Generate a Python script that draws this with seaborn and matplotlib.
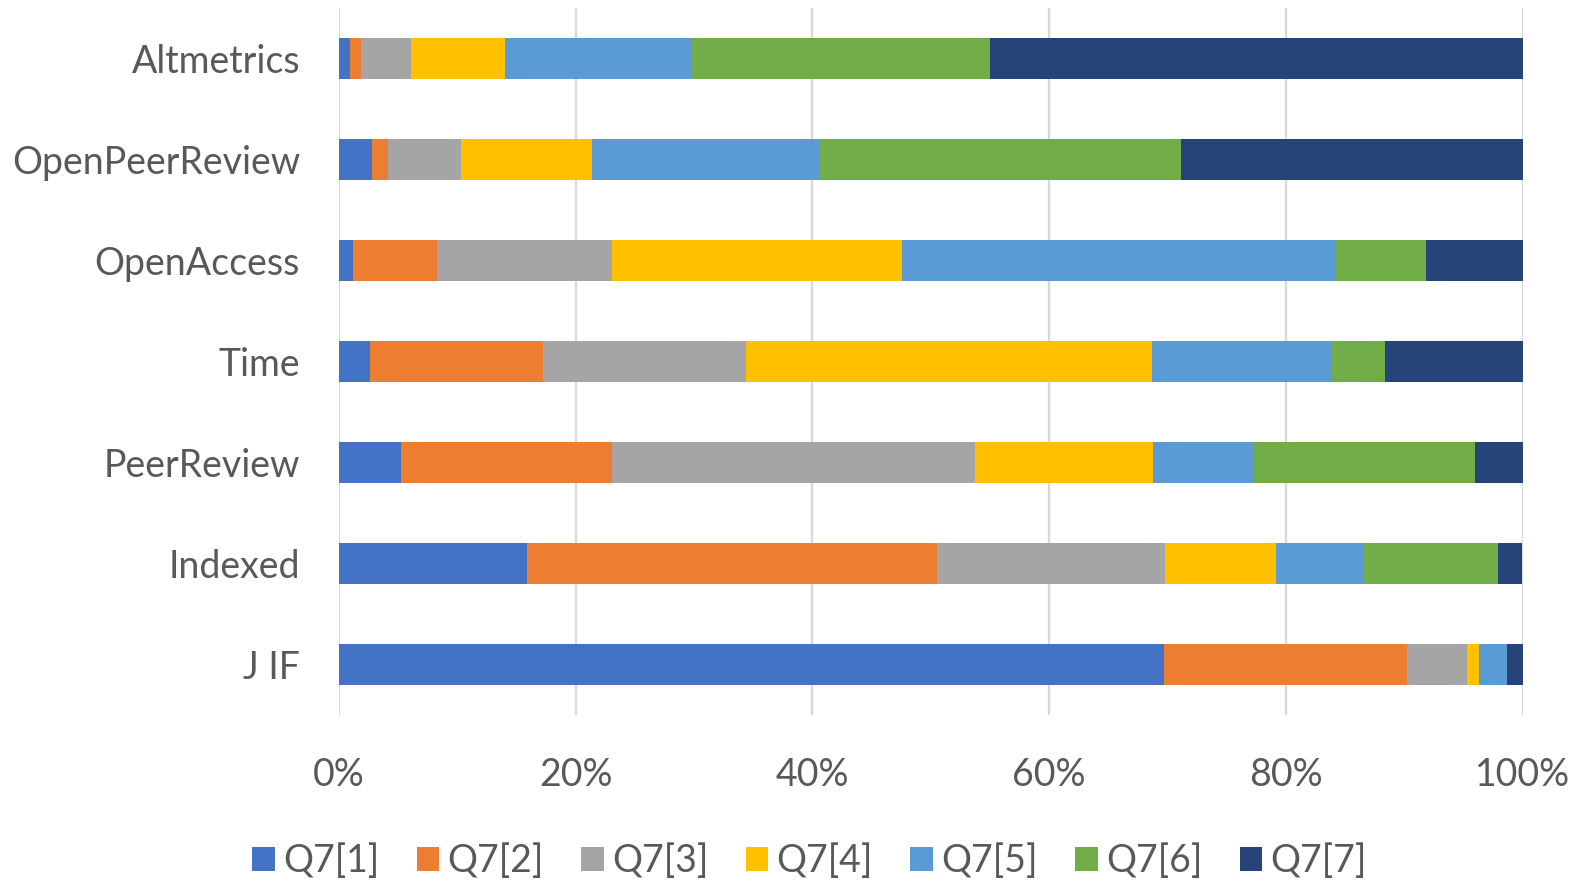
import numpy as np
import pandas as pd
import seaborn as sns
import matplotlib
matplotlib.use("Agg")
import matplotlib.pyplot as plt
from matplotlib.patches import Patch
from matplotlib.ticker import PercentFormatter

# Survey item ratings (share of respondents, %) per factor
categories = ["Altmetrics", "OpenPeerReview", "OpenAccess", "Time",
              "PeerReview", "Indexed", "J IF"]
series_names = ["Q7[1]", "Q7[2]", "Q7[3]", "Q7[4]", "Q7[5]", "Q7[6]", "Q7[7]"]

q1 = [0.9, 2.75, 1.2, 2.6, 5.2, 15.9, 69.7]
q2 = [1.0, 1.43, 7.09, 14.6, 17.9, 34.6, 20.5]
q3 = [4.15, 6.09, 14.74, 17.2, 30.6, 19.3, 5.1]
q4 = [8.0, 11.13, 24.54, 34.3, 15.1, 9.4, 1.0]
q5 = [15.75, 19.15, 36.63, 15.15, 8.5, 7.4, 2.35]
q6 = [25.2, 30.63, 7.66, 4.5, 18.7, 11.3, 0.0]
q7 = [45.0, 28.82, 8.14, 11.65, 4.0, 2.1, 1.35]

colors = ["#4472C4", "#ED7D31", "#A5A5A5", "#FFC000",
          "#5B9BD5", "#70AD47", "#264478"]

df = pd.DataFrame(dict(zip(series_names, [q1, q2, q3, q4, q5, q6, q7])),
                  index=categories)
shares = df.div(df.sum(axis=1), axis=0)
cum = shares.cumsum(axis=1)

sns.set_theme(style="white")
plt.rcParams["font.family"] = ["Lato", "DejaVu Sans"]

W, H = 1579, 882
fig = plt.figure(figsize=(W / 100, H / 100), dpi=100)
ax = fig.add_axes([339.0 / W, 1 - 715 / H, (1522.5 - 339.0) / W, (715 - 8) / H])

# 100% stacked bars: draw cumulative totals from the outermost segment inwards
for name, color in reversed(list(zip(series_names, colors))):
    sns.barplot(x=cum[name].values, y=categories, orient="y", color=color,
                saturation=1, width=0.4, ax=ax, linewidth=0, order=categories)

ax.set_xlim(0, 1)
ax.set_ylim(6.5, -0.5)
ax.set_xticks(np.linspace(0, 1, 6))
ax.xaxis.set_major_formatter(PercentFormatter(1.0, decimals=0))
ax.grid(axis="x", color="#D9D9D9", linewidth=1.7)
ax.grid(axis="y", visible=False)
ax.set_axisbelow(True)
for s in ax.spines.values():
    s.set_visible(False)
ax.set_xlabel("")
ax.set_ylabel("")
ax.tick_params(axis="x", length=0, pad=30, labelsize=27, labelcolor="#595959")
ax.tick_params(axis="y", length=0, pad=28, labelsize=27, labelcolor="#595959")

handles = [Patch(facecolor=c, edgecolor="none", label=n)
           for n, c in zip(series_names, colors)]
fig.legend(handles=handles, loc="center", ncol=7, frameon=False,
           bbox_to_anchor=(809.5 / W, 1 - 861 / H), fontsize=27,
           labelcolor="#595959", handlelength=0.6, handleheight=0.6,
           handletextpad=0.22, columnspacing=1.0, borderaxespad=0)

fig.savefig("out.png", dpi=100, facecolor="white")
